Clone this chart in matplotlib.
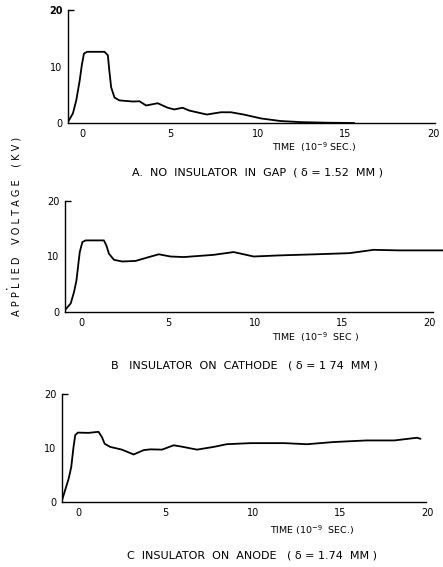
import matplotlib.pyplot as plt

# Panel A - no insulator in gap
time_a = [-0.81, -0.53, -0.34, -0.15, -0.02, 0.1, 0.28, 1.27, 1.46, 1.55, 1.65, 1.84,
          2.12, 2.88, 3.26, 3.64, 4.3, 4.87, 5.24, 5.72, 6.1, 7.1, 7.9, 8.47, 9.2,
          10.2, 11.3, 12.5, 14.0, 15.5]
volt_a = [0.2, 1.7, 4.0, 7.4, 10.3, 12.3, 12.6, 12.6, 12.0, 9.1, 6.3, 4.5,
          4.0, 3.8, 3.85, 3.1, 3.5, 2.7, 2.4, 2.7, 2.2, 1.5, 1.9, 1.9, 1.5,
          0.8, 0.35, 0.15, 0.05, 0.0]

# Panel B - insulator on cathode
time_b = [-0.96, -0.63, -0.44, -0.3, -0.19, -0.11, 0.04, 0.23, 1.28, 1.42, 1.57, 1.86,
          2.34, 3.1, 3.87, 4.44, 5.11, 5.88, 7.6, 8.75, 9.9, 11.4, 13.5, 15.4, 16.8,
          18.3, 20.8]
volt_b = [0.36, 1.55, 3.6, 5.7, 8.7, 10.8, 12.6, 12.9, 12.9, 12.0, 10.5, 9.4,
          9.1, 9.2, 9.9, 10.4, 10.0, 9.9, 10.3, 10.8, 10.0, 10.2, 10.4, 10.6, 11.2,
          11.1, 11.1]

# Panel C - insulator on anode
time_c = [-0.93, -0.75, -0.55, -0.4, -0.27, -0.17, -0.02, 0.59, 1.16, 1.36, 1.51, 1.83,
          2.5, 3.17, 3.74, 4.13, 4.8, 5.46, 5.85, 6.8, 7.75, 8.5, 9.86, 11.8,
          13.1, 14.6, 16.5, 18.1, 19.4, 19.6]
volt_c = [0.3, 2.2, 4.3, 6.5, 10.2, 12.4, 12.85, 12.8, 13.0, 12.0, 10.8, 10.2,
          9.7, 8.8, 9.6, 9.75, 9.7, 10.5, 10.3, 9.7, 10.2, 10.7, 10.9, 10.9,
          10.7, 11.1, 11.4, 11.4, 11.9, 11.7]

x_ticks = [0, 5, 10, 15, 20]
y_ticks = [0, 10, 20]

W, H = 443, 567
fig = plt.figure(figsize=(W / 100, H / 100), dpi=100)
fig.patch.set_facecolor('white')

# left px, right px, y=0 px, y=20 px, xmin, xmax, axis end, data, caption + positions
panels = [
    (68, 435, 123, 10, -0.81, 20.1, 20.1, time_a, volt_a,
     'A.  NO  INSULATOR  IN  GAP  ( δ = 1.52  MM )', 257, 173, 314, 147, r'TIME  (10$^{-9}$ SEC.)'),
    (65, 443, 312, 201, -0.96, 20.8, 20.2, time_b, volt_b,
     'B   INSULATOR  ON  CATHODE   ( δ = 1 74  MM )', 244, 366, 316, 337, r'TIME  (10$^{-9}$  SEC )'),
    (62, 431, 502, 394, -0.93, 20.2, 19.9, time_c, volt_c,
     'C  INSULATOR  ON  ANODE   ( δ = 1.74  MM )', 252, 556, 312, 530, r'TIME (10$^{-9}$  SEC.)'),
]

for i, (lp, rp, y0, y20, xmin, xmax, xend, t, v, cap, cx, cy, tx, ty, tlab) in enumerate(panels):
    ax = fig.add_axes([lp / W, 1 - y0 / H, (rp - lp) / W, (y0 - y20) / H])
    ax.plot(t, v, color='black', lw=1.3, solid_joinstyle='round', solid_capstyle='round')
    ax.set_xlim(xmin, xmax)
    ax.set_ylim(0, 20)
    for s in ['top', 'right']:
        ax.spines[s].set_visible(False)
    ax.spines['bottom'].set_bounds(xmin, xend)
    for s in ['left', 'bottom']:
        ax.spines[s].set_linewidth(1.0)
    ax.set_xticks(x_ticks)
    ax.set_yticks(y_ticks)
    # small serif at the top of the voltage axis
    ax.yaxis.remove_overlapping_locs = False
    ax.set_yticks([20], minor=True)
    ax.tick_params(axis='both', which='major', length=0, labelsize=7, pad=4)
    ax.tick_params(axis='y', which='minor', direction='in', length=4, width=1.0)
    if i == 0:
        ax.get_yticklabels()[-1].set_fontweight('bold')
    fig.text(tx / W, 1 - ty / H, tlab, fontsize=6.8, ha='center', va='center')
    fig.text(cx / W, 1 - cy / H, cap, fontsize=8, ha='center', va='center')

fig.text(17 / W, 1 - 226 / H, 'A P P L I E D    V O L T A G E    ( K V )',
         fontsize=7, rotation=90, ha='center', va='center')
fig.text(6 / W, 1 - 289 / H, '•', fontsize=4, ha='center', va='center')

fig.savefig('out.png', dpi=100)
